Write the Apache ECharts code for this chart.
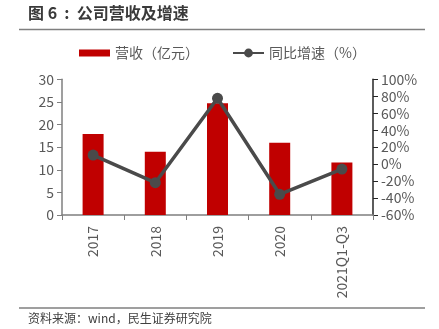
<!DOCTYPE html>
<html>
<head>
<meta charset="utf-8">
<script src="https://cdn.jsdelivr.net/npm/echarts@6/dist/echarts.min.js"></script>
<style>
html,body{margin:0;padding:0;background:#fff;}
#c{width:439px;height:329px;}
</style>
</head>
<body>
<div id="c"></div>
<script>
var categories = ['2017', '2018', '2019', '2020', '2021Q1-Q3'];
var revenue = [17.9, 14.0, 24.7, 16.0, 11.6];
var growth = [10.7, -21.9, 77.6, -35.6, -5.8];
var leftTicks = {min: 0, max: 30, interval: 5};
var rightTicks = {min: -60, max: 100, interval: 20};

var font = '"Noto Sans CJK SC", "Noto Sans", sans-serif';
var chart = echarts.init(document.getElementById('c'), null, {renderer: 'canvas'});
chart.setOption({
  animation: false,
  backgroundColor: '#fff',
  textStyle: {fontFamily: font},
  graphic: [
    {type: 'text', left: 28, top: 5, style: {text: '图 6  :  公司营收及增速', font: 'bold 16px ' + font, fill: '#3a3a3a'}},
    {type: 'line', shape: {x1: 19, y1: 29.5, x2: 425, y2: 29.5}, style: {stroke: '#7f7f7f', lineWidth: 1.5}},
    {type: 'line', shape: {x1: 19, y1: 308, x2: 425, y2: 308}, style: {stroke: '#7f7f7f', lineWidth: 1.5}},
    {type: 'text', left: 28, top: 312, style: {text: '资料来源：wind，民生证券研究院', font: '12px ' + font, fill: '#404040'}}
  ],
  legend: [
    {data: [{name: '营收（亿元）', icon: 'rect'}], left: 79, top: 46, padding: 0, itemWidth: 31, itemHeight: 7, itemGap: 4,
     textStyle: {color: '#595959', fontSize: 14, fontFamily: font}},
    {data: ['同比增速（%）'], left: 232, top: 46, padding: 0, itemWidth: 31, itemHeight: 11, itemGap: 4,
     textStyle: {color: '#595959', fontSize: 14, fontFamily: font}}
  ],
  grid: {left: 62, right: 66, top: 79.3, bottom: 114},
  xAxis: {
    type: 'category', data: categories, boundaryGap: true,
    axisLine: {lineStyle: {color: '#7f7f7f', width: 1.5}},
    axisTick: {show: true, alignWithLabel: false, length: 5, lineStyle: {color: '#7f7f7f'}},
    axisLabel: {rotate: 90, color: '#595959', fontSize: 14, fontFamily: font, margin: 11}
  },
  yAxis: [
    {type: 'value', min: leftTicks.min, max: leftTicks.max, interval: leftTicks.interval,
     splitLine: {show: false},
     axisLine: {show: true, lineStyle: {color: '#7f7f7f', width: 1.5}},
     axisTick: {show: true, length: 5, lineStyle: {color: '#7f7f7f'}},
     axisLabel: {color: '#595959', fontSize: 14, fontFamily: font, margin: 8}},
    {type: 'value', min: rightTicks.min, max: rightTicks.max, interval: rightTicks.interval,
     position: 'right', splitLine: {show: false},
     axisLine: {show: true, lineStyle: {color: '#262626', width: 1.5}},
     axisTick: {show: true, length: 5, lineStyle: {color: '#262626'}},
     axisLabel: {color: '#595959', fontSize: 14, fontFamily: font, margin: 8, formatter: '{value}%'}}
  ],
  series: [
    {name: '营收（亿元）', type: 'bar', data: revenue, barWidth: 21, yAxisIndex: 0,
     itemStyle: {color: '#C00000'}},
    {name: '同比增速（%）', type: 'line', data: growth, yAxisIndex: 1,
     symbol: 'circle', symbolSize: 11,
     lineStyle: {color: '#4a4a4a', width: 3.5},
     itemStyle: {color: '#4a4a4a'}}
  ]
});
</script>
</body>
</html>
